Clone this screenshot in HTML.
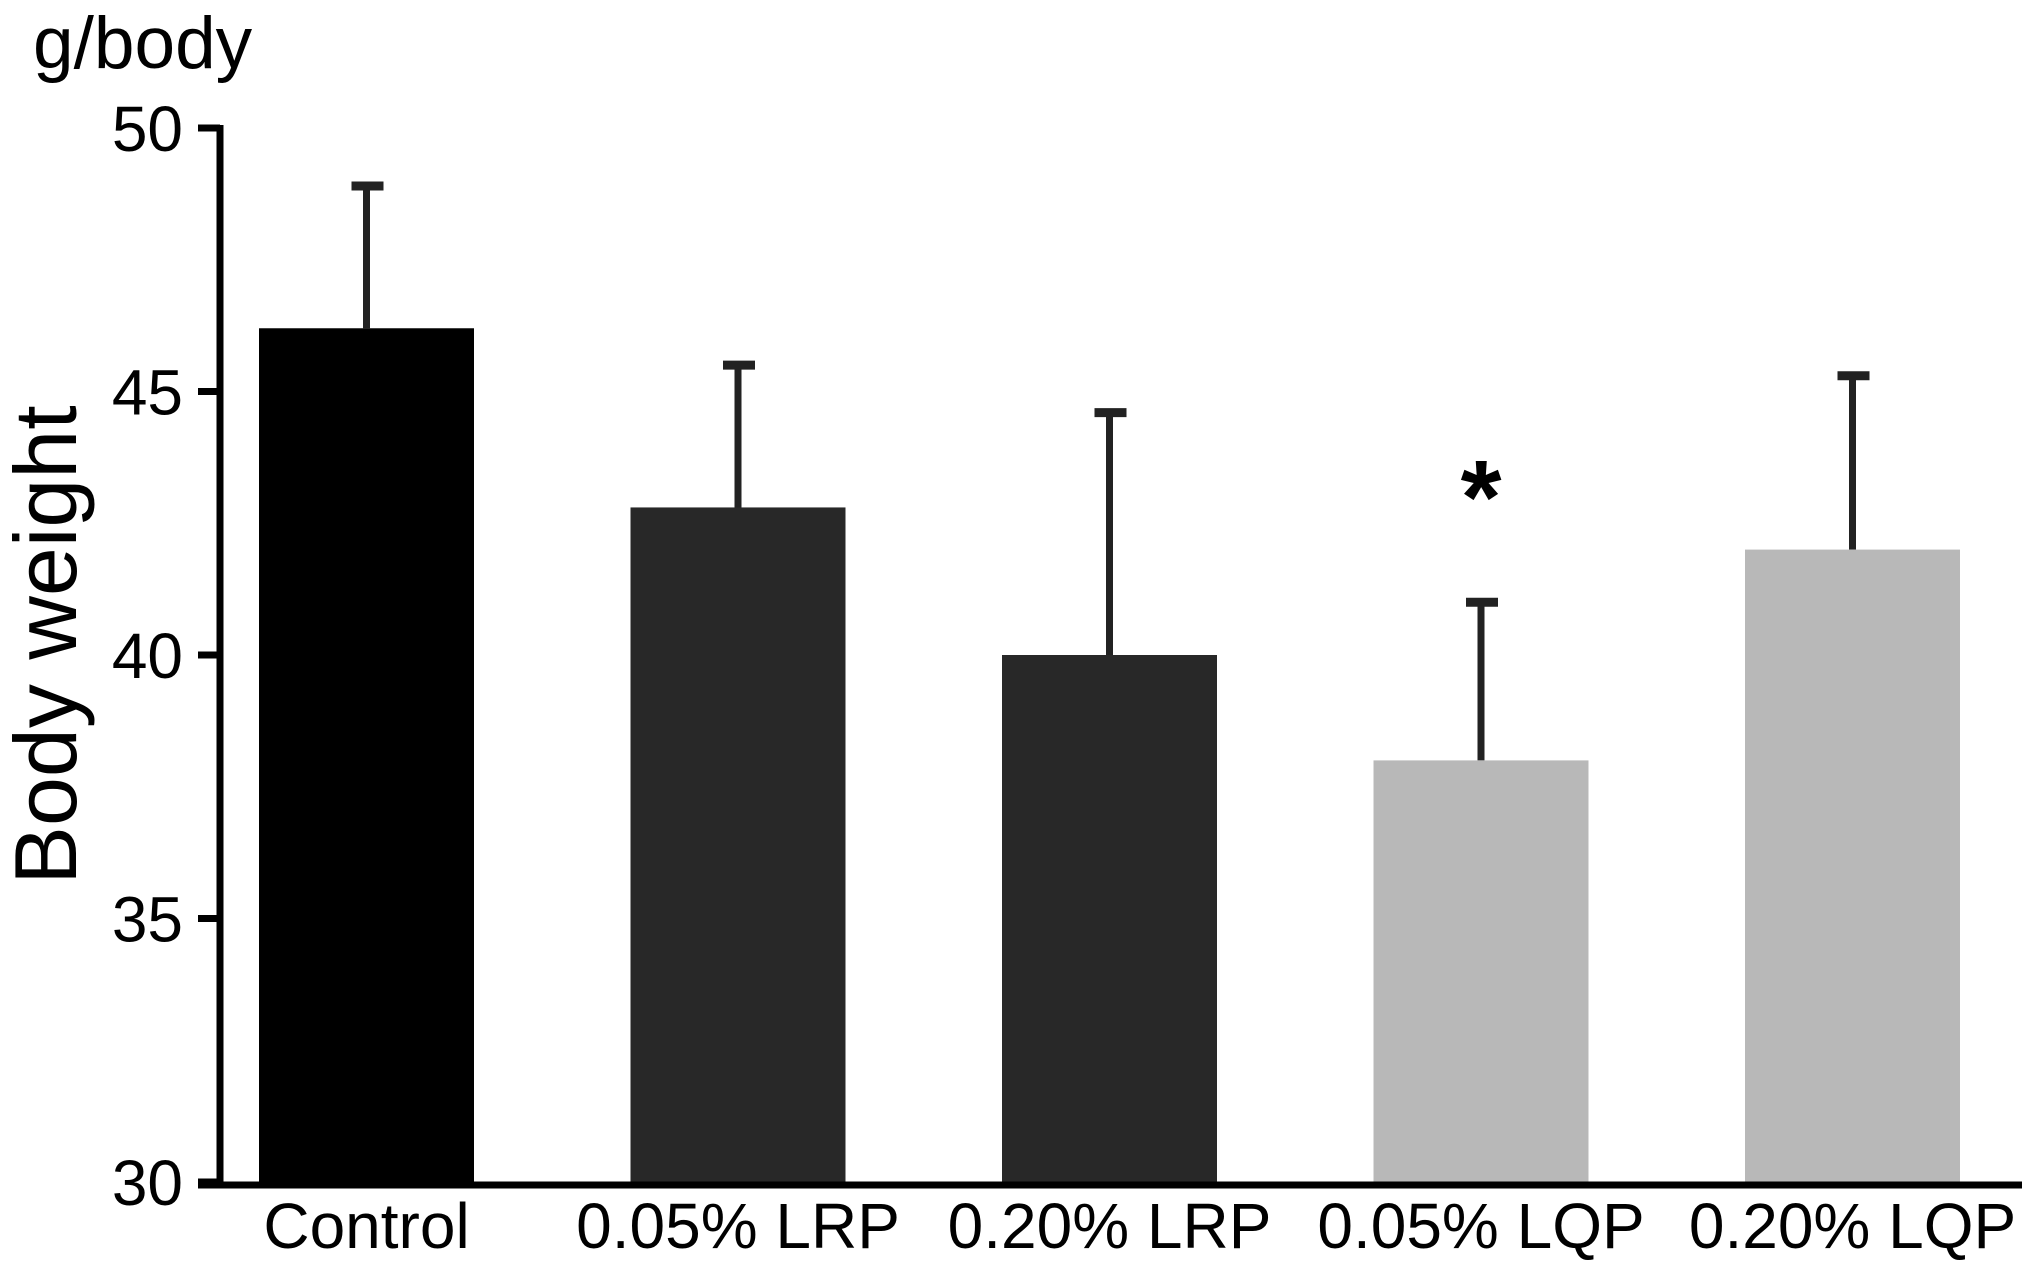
<!DOCTYPE html>
<html><head><meta charset="utf-8"><style>html,body{margin:0;padding:0;background:#fff}svg{display:block}</style></head>
<body>
<svg id="chart" width="2031" height="1269" viewBox="0 0 2031 1269" xmlns="http://www.w3.org/2000/svg" font-family="Liberation Sans, sans-serif">
<text x="33" y="68" font-size="73">g/body</text>
<text transform="translate(76,645) rotate(-90)" text-anchor="middle" font-size="88">Body weight</text>
<g id="plot"></g>
</svg>
<script>
const categories = ["Control", "0.05% LRP", "0.20% LRP", "0.05% LQP", "0.20% LQP"];
const means = [46.2, 42.8, 40.0, 38.0, 42.0];
const errTops = [48.9, 45.5, 44.6, 41.0, 45.3];
const colors = ["#000000", "#282828", "#282828", "#b8b8b8", "#b8b8b8"];
const yTicks = [30, 35, 40, 45, 50];
const sigIndex = 3;
const sigY = 43.15;

const NS = "http://www.w3.org/2000/svg";
const plot = document.getElementById("plot");
const y0 = 1182, y1 = 128, vmin = 30, vmax = 50;
const axisX = 220, firstBar = 259, barW = 215, step = 371.5;
function yScale(v){ return y0 - (v - vmin) / (vmax - vmin) * (y0 - y1); }
function xLeft(i){ return firstBar + i * step; }
function mk(tag, attrs){ const e = document.createElementNS(NS, tag); for (const k in attrs) e.setAttribute(k, attrs[k]); plot.appendChild(e); return e; }

categories.forEach((c, i) => {
  const x = xLeft(i), cx = x + barW / 2;
  const eb = mk("line", {x1: cx, x2: cx, y1: yScale(means[i]), y2: yScale(errTops[i]), stroke: "#222", "stroke-width": 7});
  
  
  const cap = mk("line", {x1: cx - 15, x2: cx + 17, y1: yScale(errTops[i]), y2: yScale(errTops[i]), stroke: "#222", "stroke-width": 9});
  
  
  const r = mk("rect", {x: x, y: yScale(means[i]), width: barW, height: y0 - yScale(means[i]), fill: colors[i]});
  
  
  const t = mk("text", {x: cx, y: 1248, "text-anchor": "middle", "font-size": 64});
  t.textContent = c;
  
  
});

const star = mk("text", {x: xLeft(sigIndex) + barW / 2, y: yScale(sigY) + 44, "text-anchor": "middle", "font-size": 105, "font-weight": "bold"});
star.textContent = "*";



yTicks.forEach(v => {
  const tk = mk("line", {x1: 198, x2: axisX, y1: yScale(v), y2: yScale(v), stroke: "#000", "stroke-width": 7});
  
  
  const lb = mk("text", {x: 183, y: yScale(v) + 23, "text-anchor": "end", "font-size": 64});
  lb.textContent = v;
  
  
});

const ya = mk("line", {x1: axisX, x2: axisX, y1: y1 - 3, y2: y0 + 4, stroke: "#000", "stroke-width": 7});


const xa = mk("line", {x1: 198, x2: 2022, y1: y0 + 3, y2: y0 + 3, stroke: "#000", "stroke-width": 7});


</script>
</body></html>
